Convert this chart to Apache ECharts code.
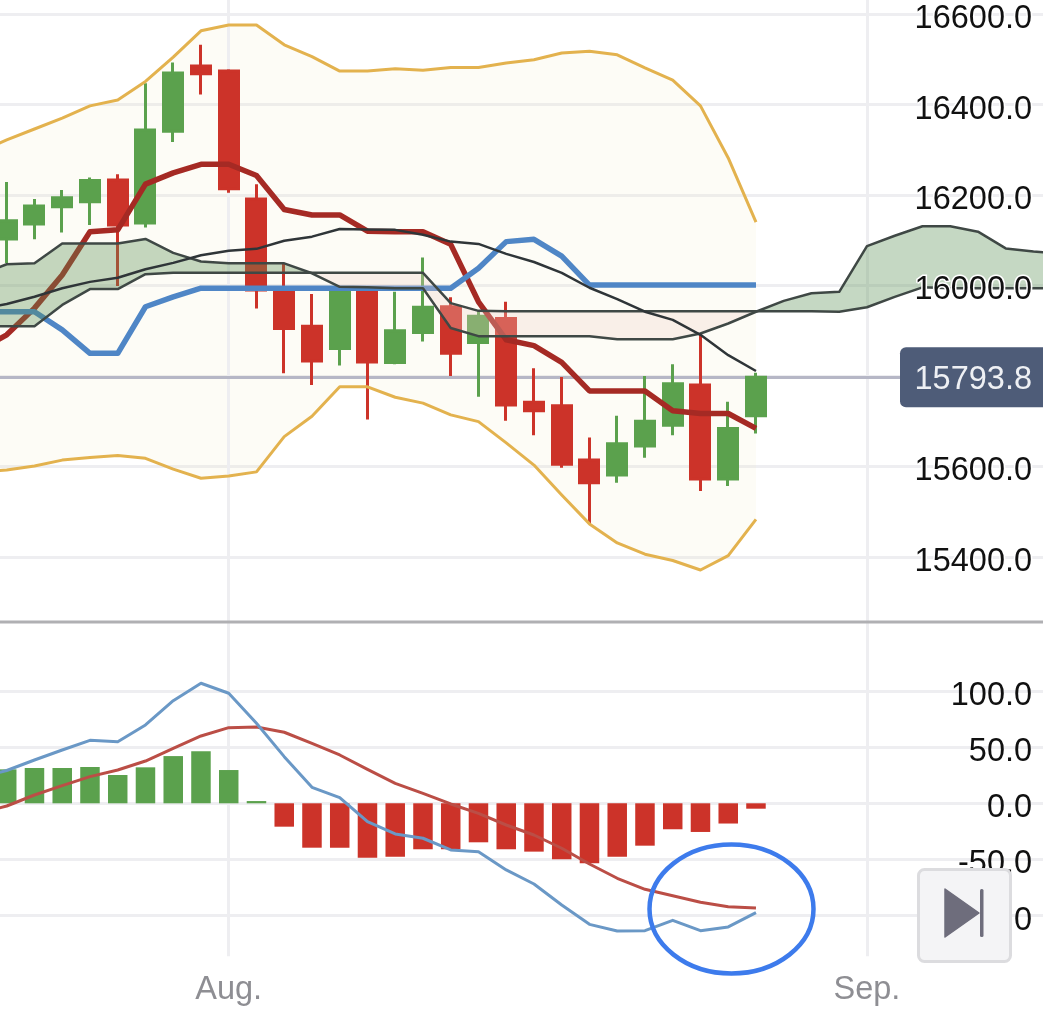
<!DOCTYPE html>
<html>
<head>
<meta charset="utf-8">
<title>Ichimoku and MACD</title>
<script src="https://cdn.jsdelivr.net/npm/echarts@6/dist/echarts.min.js"></script>
<style>
  html, body { margin: 0; padding: 0; background: #fff; }
  #chart { width: 1043px; height: 1026px; }
</style>
</head>
<body>
<div id="chart"></div>
<script>
// tick labels by slot; slots 29 to 39 only carry the cloud
const tickLabels = { 9: 'Aug.', 32: 'Sep.' };
const slotCount = 40;

// candles: open, close, low, high
const candles = [
  '-',
  [16103, 16143, 16050, 16229],
  [16136, 16176, 16102, 16191],
  [16174, 16194, 16117, 16211],
  [16185, 16232, 16134, 16239],
  [16233, 16134, 15999, 16246],
  [16138, 16344, 16128, 16447],
  [16341, 16470, 16317, 16493],
  [16485, 16468, 16422, 16532],
  [16474, 16214, 16205, 16478],
  [16191, 15990, 15949, 16224],
  [15990, 15905, 15806, 16049],
  [15910, 15833, 15780, 15981],
  [15861, 15990, 15823, 15997],
  [15990, 15831, 15704, 15997],
  [15830, 15900, 15826, 15986],
  [15896, 15952, 15876, 16062],
  [15953, 15850, 15800, 15974],
  [15874, 15932, 15754, 15946],
  [15927, 15736, 15701, 15964],
  [15742, 15723, 15669, 15817],
  [15734, 15605, 15597, 15798],
  [15614, 15564, 15473, 15664],
  [15581, 15650, 15564, 15712],
  [15645, 15700, 15619, 15800],
  [15691, 15783, 15669, 15826],
  [15780, 15572, 15546, 15894],
  [15572, 15684, 15557, 15743],
  [15712, 15797, 15673, 15807]
];
const lastPriceLabel = '15793.8';
const lastPriceLevel = 15797;

const bollUpper = [16295, 16322, 16346, 16370, 16397, 16410, 16451, 16505, 16563, 16576, 16576, 16532, 16506, 16474, 16474, 16479, 16476, 16482, 16482, 16492, 16499, 16514, 16518, 16510, 16481, 16454, 16397, 16282, 16140];
const bollLower = [15588, 15592, 15601, 15614, 15620, 15624, 15618, 15594, 15574, 15579, 15588, 15666, 15711, 15776, 15776, 15753, 15740, 15714, 15699, 15652, 15603, 15537, 15473, 15431, 15406, 15392, 15371, 15403, 15483];

const fastLine = [15857, 15891, 15950, 16023, 16119, 16123, 16224, 16249, 16268, 16268, 16243, 16168, 16156, 16156, 16120, 16119, 16119, 16091, 15964, 15880, 15867, 15830, 15767, 15767, 15767, 15723, 15717, 15717, 15684];
const baseLine = [15942, 15942, 15942, 15902, 15850, 15850, 15953, 15975, 15994, 15994, 15994, 15994, 15994, 15994, 15994, 15994, 15994, 15994, 16038, 16097, 16102, 16065, 16001, 16001, 16001, 16001, 16001, 16001, 16001];
const darkLine = [15948, 15959, 15975, 15994, 16008, 16017, 16036, 16050, 16067, 16077, 16081, 16099, 16108, 16125, 16124, 16123, 16112, 16097, 16092, 16070, 16052, 16028, 15995, 15970, 15942, 15924, 15891, 15846, 15811];

const spanA = [16023, 16047, 16049, 16093, 16093, 16093, 16103, 16072, 16053, 16049, 16049, 16049, 16027, 15997, 15996, 15994, 15994, 15906, 15888, 15888, 15888, 15888, 15888, 15881, 15881, 15881, 15894, 15916, 15942, 15966, 15983, 15986, 16087, 16110, 16131, 16131, 16119, 16082, 16075, 16071];
const spanB = [15910, 15910, 15910, 15957, 15992, 15992, 16025, 16028, 16028, 16028, 16028, 16028, 16028, 16028, 16028, 16028, 16028, 15961, 15944, 15943, 15943, 15943, 15943, 15943, 15943, 15943, 15943, 15943, 15943, 15943, 15943, 15942, 15952, 15975, 15996, 15994, 15994, 15994, 15994, 15994];

const macdHist = [null, 30.2, 31.4, 31.4, 32.3, 25.2, 32, 42, 46.3, 29.6, 2, -20.8, -39.5, -39.5, -48.4, -47.5, -40.9, -40.9, -34.7, -40.9, -43, -49.8, -53.4, -47.5, -37.7, -23.1, -25.5, -18, -4.8];
const macdLine = [22.5, 29.2, 38.5, 47.4, 56, 54.8, 69.7, 91.3, 106.8, 97.9, 71.2, 41.5, 14.2, 5, -16.4, -27.3, -31.1, -41.5, -43.1, -59.3, -71.8, -90.5, -107.7, -113.6, -113.3, -104.1, -113.3, -110, -97.3];
const signalLine = [-8.6, -2.4, 7.4, 15.7, 23.7, 29.6, 37.6, 48.9, 59.9, 67.3, 67.9, 63.2, 53.4, 43, 30.2, 17.8, 8.9, -0.6, -8.9, -19.3, -28.2, -40, -54, -66.7, -76.5, -82.2, -88.1, -92, -93.1];

const priceTicks = [15200, 16800, 200];
const macdTicks = [-150, 150, 50];

const upColor = '#5ba14d';
const downColor = '#cc3329';
const gridColor = '#eeeef1';
const labelFont = 'Liberation Sans, Arial, sans-serif';

const categories = [];
for (let i = 0; i < slotCount; i++) {
  categories.push(tickLabels[i] || '');
}

function lineSeries(name, data, color, width, z, xIdx, yIdx) {
  return {
    name: name,
    type: 'line',
    data: data,
    xAxisIndex: xIdx,
    yAxisIndex: yIdx,
    symbol: 'none',
    silent: true,
    z: z,
    lineStyle: { color: color, width: width, join: 'round' },
    animation: false
  };
}

function guideLines(yFrom, yTo) {
  return Object.keys(tickLabels).map(function (slot) {
    return [
      { xAxis: Number(slot), yAxis: yFrom },
      { xAxis: Number(slot), yAxis: yTo }
    ];
  });
}

function valueLabel(v) {
  return '{t|' + v.toFixed(1) + '}';
}

// Bollinger band fill, one polygon through both edges.
function renderBand(params, api) {
  const points = [];
  bollUpper.forEach(function (v, i) { points.push(api.coord([i, v])); });
  for (let i = bollLower.length - 1; i >= 0; i--) {
    points.push(api.coord([i, bollLower[i]]));
  }
  return { type: 'polygon', shape: { points: points }, style: { fill: 'rgba(242,235,195,0.15)' } };
}

// Cloud fill, green where span A is above span B, pink where it is below.
function renderCloud(params, api) {
  const children = [];
  let top = [], bottom = [], rising = null;

  function flush() {
    if (top.length > 1) {
      children.push({
        type: 'polygon',
        shape: { points: top.concat(bottom.slice().reverse()) },
        style: { fill: rising ? 'rgba(89,144,84,0.35)' : 'rgba(241,208,198,0.3)' }
      });
    }
  }

  spanA.forEach(function (a, i) {
    const b = spanB[i];
    const pa = api.coord([i, a]);
    const pb = api.coord([i, b]);
    const up = a >= b;
    if (rising !== null && up !== rising) {
      // the two spans cross between this slot and the previous one
      const prevA = top[top.length - 1];
      const prevB = bottom[bottom.length - 1];
      const d0 = prevA[1] - prevB[1];
      const d1 = pa[1] - pb[1];
      const t = d0 / (d0 - d1);
      const cross = [prevA[0] + (pa[0] - prevA[0]) * t, prevA[1] + (pa[1] - prevA[1]) * t];
      top.push(cross);
      bottom.push(cross);
      flush();
      top = [cross];
      bottom = [cross];
    }
    rising = up;
    top.push(pa);
    bottom.push(pb);
  });
  flush();
  return { type: 'group', children: children };
}

// Tag with the last price, sits over the axis labels.
function renderTag(params, api) {
  const y = api.coord([0, lastPriceLevel])[1];
  return {
    type: 'group',
    children: [
      { type: 'rect', shape: { x: 900, y: y - 30, width: 160, height: 60, r: 6 }, style: { fill: '#4e5c78' } },
      {
        type: 'text',
        style: {
          x: 1032, y: y + 3, text: lastPriceLabel, fill: '#eef0f4',
          font: '32.5px ' + labelFont, align: 'right', verticalAlign: 'middle'
        }
      }
    ]
  };
}

const option = {
  animation: false,
  backgroundColor: '#fff',
  grid: [
    { left: -34.9, width: 1110, top: -76.4, height: 723.8, outerBoundsMode: 'none' },
    { left: -34.9, width: 1110, top: 634.7, height: 337.2, outerBoundsMode: 'none' }
  ],
  xAxis: [
    {
      type: 'category', gridIndex: 0, data: categories,
      axisLine: { show: false }, axisTick: { show: false }, axisLabel: { show: false }, splitLine: { show: false }
    },
    {
      type: 'category', gridIndex: 1, data: categories,
      axisLine: { show: false }, axisTick: { show: false }, splitLine: { show: false },
      axisLabel: { interval: 0, margin: 2, color: '#8e8e93', fontSize: 32.5, fontFamily: labelFont, hideOverlap: false }
    }
  ],
  yAxis: [
    // gridlines, below the series
    {
      type: 'value', gridIndex: 0, position: 'right', min: priceTicks[0], max: priceTicks[1], interval: priceTicks[2], z: 0,
      axisLine: { show: false }, axisTick: { show: false }, axisLabel: { show: false },
      splitLine: { show: true, showMinLine: false, showMaxLine: false, lineStyle: { color: gridColor, width: 3 } }
    },
    // labels, above the cloud
    {
      type: 'value', gridIndex: 0, position: 'right', offset: -43, min: priceTicks[0], max: priceTicks[1], interval: priceTicks[2], z: 5,
      axisLine: { show: false }, axisTick: { show: false }, splitLine: { show: false },
      axisLabel: {
        inside: true, margin: 0, showMinLabel: false, showMaxLabel: false, formatter: valueLabel,
        rich: {
          t: {
            color: '#111', fontSize: 32.5, fontFamily: labelFont,
            textBorderColor: '#fff', textBorderWidth: 3, padding: [10, 0, 0, 0]
          }
        }
      }
    },
    {
      type: 'value', gridIndex: 1, position: 'right', min: macdTicks[0], max: macdTicks[1], interval: macdTicks[2], z: 0,
      axisLine: { show: false }, axisTick: { show: false }, axisLabel: { show: false },
      splitLine: { show: true, showMinLine: false, showMaxLine: false, lineStyle: { color: gridColor, width: 3 } }
    },
    {
      type: 'value', gridIndex: 1, position: 'right', offset: -43, min: macdTicks[0], max: macdTicks[1], interval: macdTicks[2], z: 5,
      axisLine: { show: false }, axisTick: { show: false }, splitLine: { show: false },
      axisLabel: {
        inside: true, margin: 0, showMinLabel: false, showMaxLabel: false, formatter: valueLabel,
        rich: {
          t: { color: '#111', fontSize: 32.5, fontFamily: labelFont, padding: [10, 0, 0, 0] }
        }
      }
    }
  ],
  series: [
    {
      name: 'Bollinger band', type: 'custom', xAxisIndex: 0, yAxisIndex: 0, data: [[0, lastPriceLevel]], silent: true, z: 1,
      renderItem: renderBand,
      markLine: {
        z: 1.5, silent: true, symbol: 'none', animation: false, label: { show: false },
        lineStyle: { color: gridColor, width: 3, type: 'solid' },
        data: guideLines(priceTicks[0], priceTicks[1]).concat([{ yAxis: lastPriceLevel, lineStyle: { color: '#b6b7c6', width: 3, type: 'solid' } }])
      }
    },
    {
      name: 'Candles', type: 'candlestick', xAxisIndex: 0, yAxisIndex: 0, data: candles, barWidth: 19.5, silent: true, z: 2,
      itemStyle: { color: upColor, color0: downColor, borderColor: upColor, borderColor0: downColor, borderWidth: 3 }
    },
    lineSeries('Upper band', bollUpper, '#e3b24e', 3, 3, 0, 0),
    lineSeries('Lower band', bollLower, '#e3b24e', 3, 3, 0, 0),
    lineSeries('Fast line', fastLine, '#a52a24', 5.5, 3, 0, 0),
    lineSeries('Base line', baseLine, '#4f86c6', 5.5, 3, 0, 0),
    {
      name: 'Cloud', type: 'custom', xAxisIndex: 0, yAxisIndex: 0, data: [[0, lastPriceLevel]], silent: true, z: 4,
      renderItem: renderCloud
    },
    lineSeries('Span A', spanA, '#3f4845', 2.5, 4, 0, 0),
    lineSeries('Span B', spanB, '#3f4845', 2.5, 4, 0, 0),
    lineSeries('Lagging line', darkLine, '#2f3538', 2.5, 4, 0, 0),
    {
      name: 'Price tag', type: 'custom', xAxisIndex: 0, yAxisIndex: 0, data: [[0, lastPriceLevel]], silent: true, z: 6,
      renderItem: renderTag
    },
    {
      name: 'MACD guides', type: 'line', xAxisIndex: 1, yAxisIndex: 2, data: [0], symbol: 'none', silent: true, z: 1,
      lineStyle: { width: 0 },
      markLine: {
        z: 1, silent: true, symbol: 'none', animation: false, label: { show: false },
        lineStyle: { color: gridColor, width: 3, type: 'solid' },
        data: guideLines(-136, macdTicks[1])
      }
    },
    {
      name: 'Histogram', type: 'bar', xAxisIndex: 1, yAxisIndex: 2, barWidth: 19.5, silent: true, z: 2,
      data: macdHist.map(function (v) {
        return { value: v, itemStyle: { color: v >= 0 ? upColor : downColor } };
      })
    },
    lineSeries('Signal', signalLine, '#bb4e46', 3, 3, 1, 2),
    lineSeries('MACD', macdLine, '#6a98c6', 3, 3, 1, 2)
  ],
  graphic: [
    { type: 'line', z: 3, shape: { x1: 0, y1: 622, x2: 1043, y2: 622 }, style: { stroke: '#b0b0b3', lineWidth: 3 }, silent: true },
    // hand drawn circle around the line ends
    { type: 'ellipse', z: 20, shape: { cx: 731.5, cy: 909, rx: 82, ry: 64.5 }, style: { fill: 'none', stroke: '#3d7bec', lineWidth: 4.5 }, silent: true },
    // jump-to-latest button
    { type: 'rect', z: 20, shape: { x: 918.5, y: 869.5, width: 92, height: 92, r: 6 }, style: { fill: '#f4f4f6', stroke: '#dcdcdf', lineWidth: 3 }, silent: true },
    { type: 'polygon', z: 21, shape: { points: [[945, 889], [979, 913], [945, 937]] }, style: { fill: '#6e6d7c', stroke: '#6e6d7c', lineWidth: 1.5, lineJoin: 'round' }, silent: true },
    { type: 'rect', z: 21, shape: { x: 980, y: 889, width: 3.5, height: 48, r: 1.5 }, style: { fill: '#6e6d7c' }, silent: true }
  ]
};

const chart = echarts.init(document.getElementById('chart'), null, { renderer: 'canvas' });
chart.setOption(option);
</script>
</body>
</html>
